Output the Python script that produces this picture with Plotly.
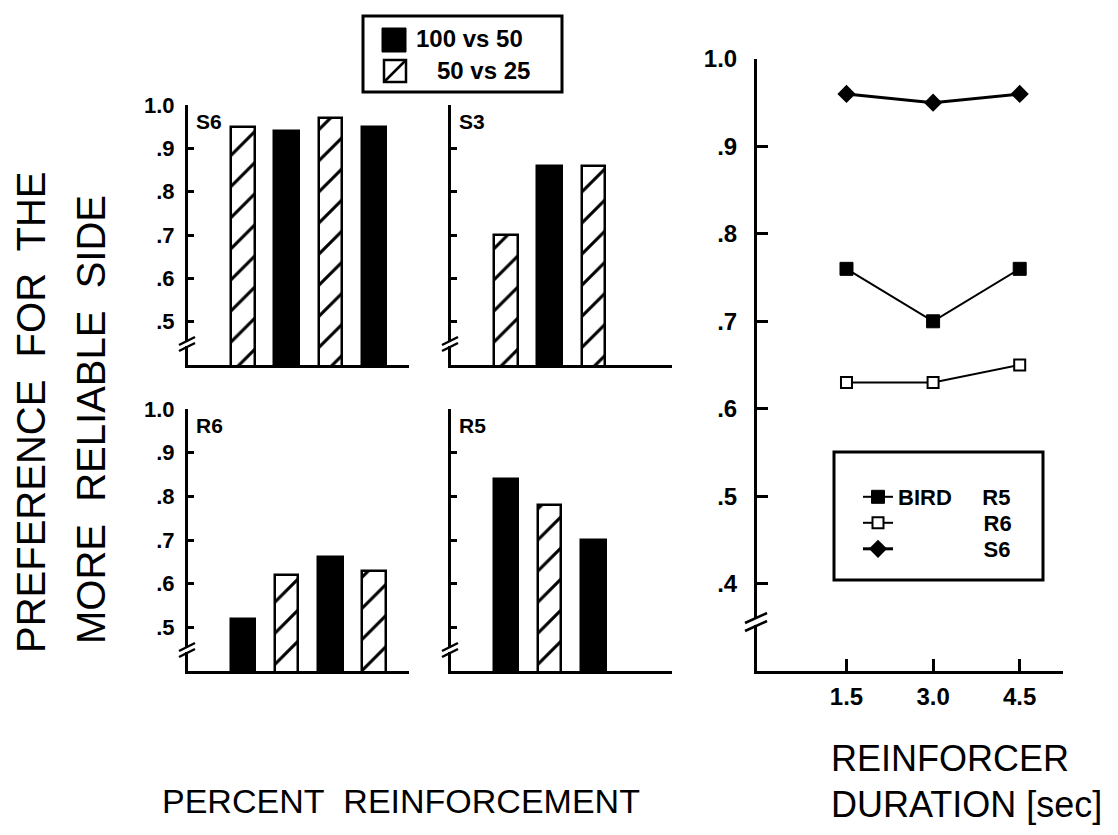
import plotly.graph_objects as go

# ---------------- data ----------------
# bar panels: slot positions 1..4 along "percent reinforcement"
s6_solid_x = [2, 4]
s6_solid = [0.94, 0.95]
s6_hatch_x = [1, 3]
s6_hatch = [0.95, 0.97]

s3_solid_x = [2]
s3_solid = [0.86]
s3_hatch_x = [1, 3]
s3_hatch = [0.70, 0.86]

r6_solid_x = [1, 3]
r6_solid = [0.52, 0.66]
r6_hatch_x = [2, 4]
r6_hatch = [0.62, 0.63]

r5_solid_x = [1, 3]
r5_solid = [0.84, 0.70]
r5_hatch_x = [2]
r5_hatch = [0.78]

# right panel: reinforcer duration
durations = [1.5, 3.0, 4.5]
dur_r5 = [0.76, 0.70, 0.76]
dur_r6 = [0.63, 0.63, 0.65]
dur_s6 = [0.96, 0.95, 0.96]

bar_ticks = [0.5, 0.6, 0.7, 0.8, 0.9, 1.0]
bar_ticklabels = [".5", ".6", ".7", ".8", ".9", "1.0"]
dur_yticks = [0.4, 0.5, 0.6, 0.7, 0.8, 0.9, 1.0]
dur_yticklabels = [".4", ".5", ".6", ".7", ".8", ".9", "1.0"]
dur_xticklabels = ["1.5", "3.0", "4.5"]

# ---------------- layout helpers ----------------
W, H = 1118, 835
OFF = 8  # page body margin offset compensation
FONT = "Liberation Sans, Arial, sans-serif"
NB = "\u00a0"


def px(x):
    return (x - OFF) / W


def py(y):
    return 1 - (y - OFF) / H


# panel pixel boxes (left, right, top, bottom) in page pixels
panels = {
    "S6": (188, 409, 105, 365),
    "S3": (451, 672, 105, 365),
    "R6": (188, 409, 409, 671),
    "R5": (451, 672, 409, 671),
    "D": (757, 1063, 59, 671),
}

fig = go.Figure()

pattern = dict(shape="/", fgcolor="black", bgcolor="white", size=22, solidity=0.14,
               fgopacity=1, fillmode="replace")

bar_sets = [
    ("x", "y", s6_solid_x, s6_solid, s6_hatch_x, s6_hatch),
    ("x2", "y2", s3_solid_x, s3_solid, s3_hatch_x, s3_hatch),
    ("x3", "y3", r6_solid_x, r6_solid, r6_hatch_x, r6_hatch),
    ("x4", "y4", r5_solid_x, r5_solid, r5_hatch_x, r5_hatch),
]

for xa, ya, sx, sy, hx, hy in bar_sets:
    fig.add_trace(go.Bar(
        x=sx, y=sy, xaxis=xa, yaxis=ya, width=0.56,
        marker=dict(color="black", line=dict(color="black", width=2.5)),
        name="100 vs 50", showlegend=False,
    ))
    fig.add_trace(go.Bar(
        x=hx, y=hy, xaxis=xa, yaxis=ya, width=0.53,
        marker=dict(color="white", opacity=1, line=dict(color="black", width=2.5), pattern=pattern),
        name="50 vs 25", showlegend=False,
    ))

fig.add_trace(go.Scatter(
    x=durations, y=dur_r5, xaxis="x5", yaxis="y5", mode="lines+markers",
    line=dict(color="black", width=2),
    marker=dict(symbol="square", size=13, color="black", line=dict(color="black", width=1)),
    name="BIRD" + NB * 5 + "R5", legend="legend2",
))
fig.add_trace(go.Scatter(
    x=durations, y=dur_r6, xaxis="x5", yaxis="y5", mode="lines+markers",
    line=dict(color="black", width=2),
    marker=dict(symbol="square", size=11, color="white", line=dict(color="black", width=2)),
    name=NB * 14 + "R6", legend="legend3",
))
fig.add_trace(go.Scatter(
    x=durations, y=dur_s6, xaxis="x5", yaxis="y5", mode="lines+markers",
    line=dict(color="black", width=3),
    marker=dict(symbol="diamond", size=14, color="black"),
    name=NB * 14 + "S6", legend="legend4",
))

tickfont_small = dict(family=FONT, size=22, color="black", weight="bold")
tickfont_big = dict(family=FONT, size=24, color="black", weight="bold")

layout_axes = {}
axis_ids = [("S6", "", True), ("S3", "2", False), ("R6", "3", True), ("R5", "4", False)]
for key, sfx, labels in axis_ids:
    l, r, t, b = panels[key]
    layout_axes["xaxis" + sfx] = dict(
        domain=[px(l), px(r)], anchor="y" + sfx, range=[-0.26, 4.8],
        showline=True, linewidth=3, linecolor="black", ticks="", showticklabels=False,
        showgrid=False, zeroline=False, fixedrange=True,
    )
    layout_axes["yaxis" + sfx] = dict(
        domain=[py(b), py(t)], anchor="x" + sfx, range=[0.4, 1.0],
        tickvals=bar_ticks, ticktext=bar_ticklabels, showticklabels=labels,
        ticks="inside", ticklen=6, tickwidth=2.5, tickcolor="black",
        showline=True, linewidth=3, linecolor="black",
        showgrid=False, zeroline=False, tickfont=tickfont_small, ticklabelstandoff=6,
        fixedrange=True,
    )

l, r, t, b = panels["D"]
layout_axes["xaxis5"] = dict(
    domain=[px(l), px(r)], anchor="y5", range=[-0.05, 5.25],
    tickvals=durations, ticktext=dur_xticklabels,
    ticks="inside", ticklen=12, tickwidth=3, tickcolor="black",
    showline=True, linewidth=3, linecolor="black", showgrid=False, zeroline=False,
    tickfont=tickfont_big, ticklabelstandoff=2, fixedrange=True,
)
layout_axes["yaxis5"] = dict(
    domain=[py(b), py(t)], anchor="x5", range=[0.3, 1.0],
    tickvals=dur_yticks, ticktext=dur_yticklabels,
    ticks="inside", ticklen=11, tickwidth=3, tickcolor="black",
    showline=True, linewidth=3, linecolor="black", showgrid=False, zeroline=False,
    tickfont=tickfont_big, ticklabelstandoff=12, fixedrange=True,
)

# ---------- decorations: axis breaks, legend frames / keys ----------
shapes = []


def axis_break(ax_x, cy, half_dx, half_dy, sep):
    shapes.append(dict(type="line", xref="paper", yref="paper",
                       x0=px(ax_x), x1=px(ax_x), y0=py(cy - sep / 2 + 1), y1=py(cy + sep / 2 - 1),
                       line=dict(color="white", width=5)))
    for off in (-sep / 2, sep / 2):
        shapes.append(dict(type="line", xref="paper", yref="paper",
                           x0=px(ax_x - half_dx), y0=py(cy + off + half_dy),
                           x1=px(ax_x + half_dx), y1=py(cy + off - half_dy),
                           line=dict(color="black", width=2.5)))


for key in ["S6", "S3", "R6", "R5"]:
    l, r, t, b = panels[key]
    axis_break(l - 1, b - 21, 8, 4, 6)
l, r, t, b = panels["D"]
axis_break(l - 1, b - 49, 11, 5, 8)

# top legend frame and keys
shapes.append(dict(type="rect", xref="paper", yref="paper",
                   x0=px(363), x1=px(562), y0=py(16), y1=py(92),
                   line=dict(color="black", width=3), fillcolor="rgba(0,0,0,0)"))
shapes.append(dict(type="rect", xref="paper", yref="paper",
                   x0=px(382), x1=px(406), y0=py(28), y1=py(52),
                   line=dict(color="black", width=1), fillcolor="black"))
shapes.append(dict(type="rect", xref="paper", yref="paper",
                   x0=px(384), x1=px(406), y0=py(60), y1=py(82),
                   line=dict(color="black", width=2.5), fillcolor="white"))
shapes.append(dict(type="line", xref="paper", yref="paper",
                   x0=px(385), x1=px(405), y0=py(81), y1=py(61),
                   line=dict(color="black", width=2.5)))
# right legend frame
shapes.append(dict(type="rect", xref="paper", yref="paper",
                   x0=px(834), x1=px(1043), y0=py(452), y1=py(580),
                   line=dict(color="black", width=3), fillcolor="rgba(0,0,0,0)"))

annotations = []
panel_font = dict(family=FONT, size=21, color="black", weight="bold")
for key in ["S6", "S3", "R6", "R5"]:
    l, r, t, b = panels[key]
    annotations.append(dict(text=key, xref="paper", yref="paper", x=px(l + 6), y=py(t + 3),
                            xanchor="left", yanchor="top", showarrow=False, font=panel_font))

leg_font = dict(family=FONT, size=24, color="black", weight="bold")
annotations += [
    dict(text="100 vs 50", xref="paper", yref="paper", x=px(414), y=py(39),
         xanchor="left", yanchor="middle", showarrow=False, font=leg_font),
    dict(text="50 vs 25", xref="paper", yref="paper", x=px(532), y=py(71),
         xanchor="right", yanchor="middle", showarrow=False, font=leg_font),
]

title_font = dict(family=FONT, size=40, color="black")
bottom_font = dict(family=FONT, size=34, color="black")
right_font = dict(family=FONT, size=36, color="black")
annotations += [
    dict(text="PREFERENCE" + NB + " FOR" + NB + " THE", xref="paper", yref="paper", x=px(31), y=py(412),
         textangle=-90, showarrow=False, font=title_font, xanchor="center", yanchor="middle"),
    dict(text="MORE" + NB + " RELIABLE" + NB + " SIDE", xref="paper", yref="paper", x=px(91), y=py(420),
         textangle=-90, showarrow=False, font=title_font, xanchor="center", yanchor="middle"),
    dict(text="PERCENT" + NB + " REINFORCEMENT", xref="paper", yref="paper", x=px(401), y=py(801),
         showarrow=False, font=bottom_font, xanchor="center", yanchor="middle"),
    dict(text="REINFORCER", xref="paper", yref="paper", x=px(829), y=py(758),
         showarrow=False, font=right_font, xanchor="left", yanchor="middle"),
    dict(text="DURATION [sec]", xref="paper", yref="paper", x=px(829), y=py(804),
         showarrow=False, font=right_font, xanchor="left", yanchor="middle"),
]

leg_common = dict(xanchor="left", yanchor="middle", bgcolor="rgba(0,0,0,0)", borderwidth=0,
                  font=dict(family=FONT, size=22, color="black", weight="bold"), itemwidth=30)

fig.update_layout(
    width=W, height=H, margin=dict(l=0, r=0, t=0, b=0, autoexpand=False),
    paper_bgcolor="white", plot_bgcolor="white",
    barmode="overlay", bargap=0,
    shapes=shapes, annotations=annotations,
    legend2=dict(x=px(858), y=py(497), **leg_common),
    legend3=dict(x=px(858), y=py(523), **leg_common),
    legend4=dict(x=px(858), y=py(549), **leg_common),
    **layout_axes,
)

fig.write_html("out.html")
